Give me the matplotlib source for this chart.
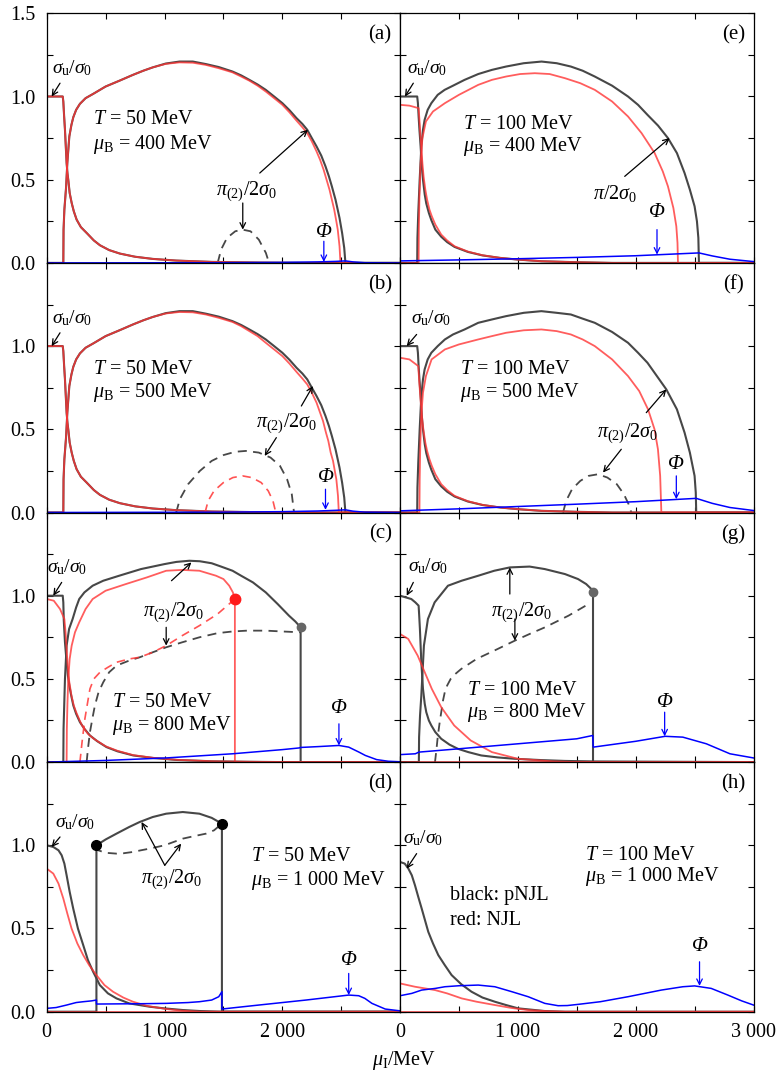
import matplotlib
matplotlib.use("Agg")
import matplotlib.pyplot as plt

plt.rcParams["font.family"] = ["Liberation Serif", "DejaVu Serif"]
plt.rcParams["mathtext.fontset"] = "custom"
plt.rcParams["mathtext.rm"] = "Liberation Serif"
plt.rcParams["mathtext.it"] = "Liberation Serif:italic"
plt.rcParams["mathtext.bf"] = "Liberation Serif:bold"

BLACK = "#474747"
RED = "#ff3535"
BLUE = "#0000ff"

# ---- (a) T=50, muB=400 ----
A_SIG_X = [0, 136, 141, 148, 155, 162, 169, 176, 183, 195, 212, 230, 254, 290, 339, 400, 452, 530, 621, 750, 900, 1100, 1400, 1800, 2200, 3000]
A_SIG_Y = [1, 1, 0.97, 0.88, 0.80, 0.70, 0.60, 0.54, 0.50, 0.42, 0.36, 0.31, 0.26, 0.215, 0.18, 0.135, 0.106, 0.077, 0.056, 0.037, 0.024, 0.014, 0.006, 0.002, 0, 0]
A_PI_X = [0, 141, 143, 150, 164, 175, 192, 210, 226, 250, 282, 330, 395, 500, 621, 732, 820, 900, 1010, 1127, 1240, 1350, 1460, 1577, 1650, 1720, 1790, 1859, 1930, 2000, 2060, 2120, 2170, 2211, 2250, 2290, 2330, 2366, 2395, 2420, 2451, 2485, 2507, 2525, 2535, 3000]
A_PI_Y = [0, 0, 0.2, 0.32, 0.45, 0.60, 0.76, 0.83, 0.876, 0.92, 0.956, 0.99, 1.016, 1.06, 1.096, 1.13, 1.155, 1.175, 1.198, 1.21, 1.21, 1.195, 1.177, 1.15, 1.127, 1.10, 1.072, 1.04, 1.0, 0.96, 0.918, 0.87, 0.835, 0.80, 0.75, 0.70, 0.645, 0.58, 0.52, 0.46, 0.38, 0.27, 0.18, 0.09, 0, 0]
A_PIR_X = [0, 141, 143, 150, 164, 175, 192, 210, 226, 250, 282, 330, 395, 500, 621, 732, 820, 900, 1010, 1127, 1240, 1350, 1460, 1577, 1650, 1720, 1790, 1859, 1930, 2000, 2060, 2120, 2170, 2211, 2250, 2290, 2320, 2350, 2375, 2400, 2420, 2440, 2458, 2470, 2485, 2493, 3000]
A_PIR_Y = [0, 0, 0.2, 0.32, 0.45, 0.60, 0.76, 0.83, 0.876, 0.92, 0.956, 0.99, 1.016, 1.06, 1.096, 1.13, 1.155, 1.175, 1.196, 1.205, 1.203, 1.19, 1.17, 1.145, 1.12, 1.095, 1.065, 1.03, 0.99, 0.95, 0.905, 0.855, 0.815, 0.78, 0.73, 0.67, 0.62, 0.56, 0.50, 0.44, 0.38, 0.32, 0.25, 0.2, 0.1, 0, 0]
A_PI2_X = [1451, 1480, 1530, 1600, 1662, 1730, 1800, 1860, 1887]
A_PI2_Y = [0, 0.08, 0.15, 0.19, 0.20, 0.19, 0.14, 0.06, 0]
A_PHI_X = [0, 1500, 2000, 2300, 2450, 2535, 2600, 2700, 3000]
A_PHI_Y = [0, 0.001, 0.003, 0.006, 0.009, 0.012, 0.006, 0.001, 0]

# ---- (b) T=50, muB=500 ----  (sigma and black pi coincide with (a))
B_SIG_X, B_SIG_Y = A_SIG_X, A_SIG_Y
B_PI_X, B_PI_Y = A_PI_X, A_PI_Y
B_PIR_X = [0, 141, 143, 150, 164, 175, 192, 210, 226, 250, 282, 330, 395, 500, 621, 732, 820, 900, 1010, 1127, 1240, 1350, 1460, 1577, 1650, 1720, 1790, 1859, 1930, 2000, 2060, 2120, 2170, 2211, 2250, 2290, 2320, 2345, 2370, 2390, 2410, 2430, 2445, 2458, 2472, 2479, 3000]
B_PIR_Y = [0, 0, 0.2, 0.32, 0.45, 0.60, 0.76, 0.83, 0.876, 0.92, 0.956, 0.99, 1.016, 1.06, 1.096, 1.13, 1.155, 1.175, 1.196, 1.205, 1.203, 1.19, 1.17, 1.145, 1.12, 1.09, 1.06, 1.02, 0.98, 0.94, 0.895, 0.845, 0.805, 0.77, 0.72, 0.66, 0.60, 0.55, 0.48, 0.43, 0.36, 0.31, 0.25, 0.2, 0.1, 0, 0]
B_PI2_X = [1099, 1130, 1200, 1300, 1400, 1500, 1600, 1690, 1800, 1900, 1980, 2040, 2080, 2099]
B_PI2_Y = [0, 0.08, 0.17, 0.25, 0.31, 0.345, 0.365, 0.37, 0.36, 0.33, 0.28, 0.2, 0.11, 0]
B_PI2R_X = [1344, 1370, 1420, 1500, 1580, 1662, 1740, 1820, 1880, 1920, 1944]
B_PI2R_Y = [0, 0.07, 0.13, 0.18, 0.21, 0.22, 0.21, 0.18, 0.13, 0.07, 0]
B_PHI_X = [0, 1500, 2000, 2300, 2450, 2535, 2600, 2700, 3000]
B_PHI_Y = [0, 0.002, 0.005, 0.009, 0.013, 0.016, 0.008, 0.002, 0]

# ---- (c) T=50, muB=800 ----
C_SIG_X = [0, 136, 141, 145, 155, 169, 180, 192, 208, 226, 250, 282, 320, 367, 430, 508, 600, 734, 900, 1100, 1400, 1700, 2000, 3000]
C_SIG_Y = [1, 1, 0.96, 0.85, 0.72, 0.60, 0.52, 0.46, 0.40, 0.34, 0.29, 0.24, 0.20, 0.16, 0.125, 0.09, 0.065, 0.04, 0.025, 0.013, 0.005, 0.002, 0, 0]
C_SIGR_X = [0, 60, 113, 150, 160, 169, 178, 190, 210, 230, 250, 280, 300, 350, 400, 500, 600, 734, 900, 1100, 1400, 1700, 2000, 3000]
C_SIGR_Y = [0.98, 0.97, 0.92, 0.86, 0.78, 0.68, 0.58, 0.49, 0.40, 0.34, 0.30, 0.25, 0.22, 0.17, 0.14, 0.095, 0.068, 0.042, 0.026, 0.014, 0.005, 0.002, 0, 0]
C_PI_X = [0, 141, 143, 149, 155, 169, 190, 220, 250, 276, 320, 390, 480, 615, 800, 1000, 1100, 1211, 1300, 1400, 1480, 1577, 1650, 1750, 1859, 1960, 2056, 2110, 2155, 2155, 3000]
C_PI_Y = [0, 0, 0.2, 0.35, 0.5, 0.70, 0.80, 0.86, 0.93, 0.98, 1.02, 1.06, 1.09, 1.12, 1.16, 1.19, 1.203, 1.21, 1.207, 1.195, 1.175, 1.15, 1.12, 1.08, 1.02, 0.95, 0.88, 0.845, 0.81, 0, 0]
C_PIR_X = [0, 169, 171, 176, 183, 195, 212, 240, 276, 330, 390, 500, 672, 850, 1014, 1150, 1296, 1437, 1500, 1549, 1580, 1597, 1597, 3000]
C_PIR_Y = [0, 0, 0.2, 0.35, 0.50, 0.62, 0.70, 0.78, 0.84, 0.92, 0.98, 1.03, 1.07, 1.11, 1.15, 1.155, 1.15, 1.12, 1.10, 1.06, 1.02, 0.98, 0, 0]
C_PI2_X = [339, 350, 367, 390, 409, 440, 480, 530, 593, 700, 790, 900, 1014, 1150, 1296, 1450, 1577, 1700, 1859, 2000, 2155]
C_PI2_Y = [0, 0.08, 0.18, 0.27, 0.34, 0.42, 0.48, 0.54, 0.58, 0.61, 0.63, 0.66, 0.69, 0.72, 0.75, 0.775, 0.785, 0.79, 0.79, 0.785, 0.78]
C_PI2R_X = [282, 300, 324, 350, 367, 400, 452, 520, 593, 700, 790, 900, 1014, 1150, 1296, 1450, 1597]
C_PI2R_Y = [0, 0.12, 0.26, 0.37, 0.44, 0.50, 0.54, 0.57, 0.60, 0.62, 0.63, 0.66, 0.70, 0.76, 0.82, 0.89, 0.98]
C_PHI_X = [0, 500, 1014, 1577, 2000, 2141, 2155, 2300, 2480, 2563, 2650, 2704, 2800, 2900, 3000]
C_PHI_Y = [0, 0.01, 0.025, 0.05, 0.075, 0.085, 0.088, 0.093, 0.10, 0.09, 0.06, 0.04, 0.015, 0.005, 0.002]
C_DOT_K = (2155, 0.81)
C_DOT_R = (1597, 0.98)

# ---- (d) T=50, muB=1000 ----
D_SIG_X = [0, 56, 100, 127, 150, 169, 195, 225, 265, 310, 350, 394, 451, 520, 592, 700, 873, 1000, 1155, 1300, 1500, 3000]
D_SIG_Y = [1.0, 0.99, 0.97, 0.94, 0.89, 0.82, 0.72, 0.62, 0.50, 0.40, 0.31, 0.24, 0.16, 0.11, 0.08, 0.05, 0.03, 0.02, 0.01, 0.004, 0, 0]
D_SIGR_X = [0, 56, 100, 141, 175, 211, 260, 310, 360, 422, 490, 563, 650, 732, 850, 1014, 1150, 1300, 3000]
D_SIGR_Y = [0.86, 0.83, 0.77, 0.68, 0.59, 0.50, 0.41, 0.34, 0.28, 0.22, 0.16, 0.12, 0.085, 0.06, 0.035, 0.016, 0.006, 0, 0]
D_PI_X = [0, 422, 422, 500, 592, 700, 789, 900, 1014, 1155, 1296, 1400, 1487, 1487, 3000]
D_PI_Y = [0, 0, 1.0, 1.035, 1.07, 1.11, 1.14, 1.17, 1.19, 1.20, 1.19, 1.165, 1.13, 0, 0]
D_PI2_X = [422, 437, 500, 592, 650, 732, 800, 873, 1000, 1155, 1250, 1352, 1420, 1487]
D_PI2_Y = [1.0, 0.97, 0.955, 0.95, 0.952, 0.96, 0.97, 0.98, 1.0, 1.04, 1.055, 1.07, 1.09, 1.13]
D_PHI_X = [0, 80, 169, 250, 310, 380, 422, 422, 600, 800, 1014, 1200, 1296, 1400, 1460, 1487, 1487, 1800, 2200, 2563, 2648, 2700, 2760, 2873, 3000]
D_PHI_Y = [0.02, 0.025, 0.04, 0.055, 0.06, 0.065, 0.07, 0.046, 0.047, 0.048, 0.05, 0.055, 0.06, 0.07, 0.09, 0.12, 0.016, 0.04, 0.07, 0.10, 0.096, 0.08, 0.05, 0.016, 0.005]
D_DOTS_X = [422, 1487]
D_DOTS_Y = [1.0, 1.13]

# ---- (e) T=100, muB=400 ----
E_SIG_X = [0, 146, 152, 158, 165, 175, 185, 195, 210, 223, 245, 266, 300, 350, 400, 463, 576, 700, 850, 1000, 1200, 1500, 1800, 3000]
E_SIG_Y = [1, 1, 0.96, 0.88, 0.80, 0.70, 0.58, 0.50, 0.41, 0.357, 0.30, 0.257, 0.20, 0.157, 0.125, 0.096, 0.066, 0.045, 0.03, 0.02, 0.01, 0.004, 0, 0]
E_SIGR_X = [0, 80, 158, 165, 172, 180, 190, 200, 215, 230, 250, 270, 300, 350, 400, 463, 576, 700, 850, 1000, 1200, 1500, 1800, 3000]
E_SIGR_Y = [0.95, 0.945, 0.93, 0.86, 0.78, 0.70, 0.60, 0.52, 0.44, 0.38, 0.32, 0.28, 0.23, 0.17, 0.135, 0.10, 0.068, 0.046, 0.03, 0.02, 0.01, 0.004, 0, 0]
E_PI_X = [0, 146, 148, 155, 167, 181, 195, 209, 235, 266, 320, 379, 450, 548, 664, 780, 900, 1050, 1201, 1330, 1450, 1550, 1653, 1800, 1935, 2020, 2100, 2190, 2274, 2350, 2415, 2460, 2500, 2520, 2532, 2537, 3000]
E_PI_Y = [0, 0, 0.15, 0.3, 0.5, 0.70, 0.80, 0.86, 0.92, 0.96, 1.01, 1.04, 1.065, 1.10, 1.135, 1.16, 1.18, 1.20, 1.21, 1.20, 1.18, 1.155, 1.12, 1.065, 1.0, 0.95, 0.89, 0.825, 0.75, 0.66, 0.54, 0.44, 0.34, 0.25, 0.15, 0, 0]
E_PIR_X = [0, 158, 160, 165, 175, 190, 220, 280, 381, 500, 664, 780, 900, 1020, 1144, 1270, 1400, 1530, 1653, 1800, 1935, 2050, 2161, 2230, 2274, 2320, 2345, 2355, 2359, 3000]
E_PIR_Y = [0, 0, 0.2, 0.4, 0.6, 0.75, 0.85, 0.91, 0.96, 1.01, 1.07, 1.10, 1.12, 1.135, 1.14, 1.135, 1.11, 1.08, 1.04, 0.97, 0.88, 0.78, 0.66, 0.55, 0.46, 0.33, 0.22, 0.12, 0, 0]
E_PHI_X = [0, 500, 1000, 1500, 2000, 2537, 2650, 2800, 3000]
E_PHI_Y = [0.012, 0.018, 0.025, 0.033, 0.043, 0.06, 0.042, 0.022, 0.008]

# ---- (f) T=100, muB=500 ----
F_SIG_X, F_SIG_Y = E_SIG_X, E_SIG_Y
F_SIGR_X = [0, 80, 155, 162, 170, 180, 190, 200, 215, 230, 250, 270, 300, 350, 400, 463, 576, 700, 850, 1000, 1200, 1500, 1800, 3000]
F_SIGR_Y = [0.93, 0.92, 0.88, 0.80, 0.72, 0.63, 0.55, 0.49, 0.42, 0.37, 0.32, 0.28, 0.23, 0.17, 0.135, 0.10, 0.068, 0.046, 0.03, 0.02, 0.01, 0.004, 0, 0]
F_PI_X = [0, 146, 148, 155, 167, 181, 195, 209, 235, 266, 320, 381, 450, 548, 664, 780, 900, 1050, 1200, 1330, 1450, 1550, 1653, 1800, 1935, 2020, 2100, 2180, 2260, 2350, 2415, 2460, 2500, 2510, 2514, 3000]
F_PI_Y = [0, 0, 0.15, 0.3, 0.5, 0.70, 0.80, 0.86, 0.92, 0.96, 1.0, 1.04, 1.07, 1.10, 1.14, 1.16, 1.18, 1.20, 1.21, 1.20, 1.19, 1.165, 1.14, 1.085, 1.02, 0.96, 0.90, 0.82, 0.74, 0.62, 0.48, 0.36, 0.22, 0.12, 0, 0]
F_PIR_X = [0, 165, 167, 172, 180, 195, 220, 268, 381, 500, 664, 780, 900, 1050, 1200, 1330, 1450, 1550, 1653, 1800, 1935, 2030, 2105, 2160, 2189, 2208, 2218, 3000]
F_PIR_Y = [0, 0, 0.2, 0.4, 0.58, 0.72, 0.82, 0.92, 0.98, 1.01, 1.04, 1.06, 1.08, 1.095, 1.10, 1.09, 1.07, 1.04, 1.0, 0.92, 0.82, 0.73, 0.62, 0.50, 0.38, 0.22, 0, 0]
F_PI2_X = [1384, 1410, 1460, 1530, 1600, 1681, 1760, 1840, 1900, 1940, 1963]
F_PI2_Y = [0, 0.07, 0.14, 0.19, 0.22, 0.23, 0.21, 0.17, 0.11, 0.05, 0]
F_PHI_X = [0, 500, 1000, 1500, 2000, 2514, 2650, 2800, 3000]
F_PHI_Y = [0.01, 0.022, 0.036, 0.05, 0.065, 0.085, 0.055, 0.03, 0.012]

# ---- (g) T=100, muB=800 ----
G_SIG_X = [0, 96, 130, 158, 163, 169, 181, 195, 210, 223, 245, 266, 300, 350, 420, 491, 580, 689, 830, 972, 1200, 1400, 1650, 3000]
G_SIG_Y = [1.0, 0.98, 0.96, 0.94, 0.88, 0.80, 0.60, 0.44, 0.35, 0.30, 0.25, 0.22, 0.18, 0.14, 0.105, 0.08, 0.06, 0.04, 0.028, 0.02, 0.012, 0.007, 0.004, 0.0]
G_SIGR_X = [0, 70, 150, 210, 270, 350, 460, 600, 780, 1000, 1300, 1500, 3000]
G_SIGR_Y = [0.77, 0.74, 0.64, 0.54, 0.44, 0.33, 0.22, 0.13, 0.06, 0.02, 0.004, 0, 0]
G_PI_X = [0, 160, 162, 170, 181, 203, 237, 294, 407, 523, 664, 800, 932, 1100, 1229, 1400, 1511, 1580, 1624, 1638, 1638, 3000]
G_PI_Y = [0, 0, 0.15, 0.28, 0.40, 0.70, 0.86, 0.96, 1.06, 1.09, 1.12, 1.15, 1.17, 1.175, 1.16, 1.13, 1.10, 1.07, 1.04, 1.02, 0, 0]
G_PI2_X = [297, 310, 320, 335, 350, 365, 380, 400, 430, 470, 520, 650, 800, 975, 1100, 1230, 1430, 1600]
G_PI2_Y = [0, 0.08, 0.15, 0.23, 0.30, 0.37, 0.42, 0.46, 0.50, 0.53, 0.56, 0.62, 0.67, 0.73, 0.77, 0.81, 0.88, 0.95]
G_PHI_X = [0, 130, 160, 500, 1000, 1500, 1636, 1640, 2000, 2250, 2400, 2600, 2800, 3000]
G_PHI_Y = [0.045, 0.05, 0.06, 0.08, 0.11, 0.14, 0.16, 0.09, 0.125, 0.155, 0.15, 0.11, 0.05, 0.025]
G_DOT_K = (1638, 1.02)

# ---- (h) T=100, muB=1000 ----
H_SIG_X = [0, 40, 71, 100, 127, 155, 184, 212, 240, 280, 325, 380, 438, 520, 607, 700, 805, 900, 1003, 1229, 1400, 3000]
H_SIG_Y = [0.90, 0.89, 0.86, 0.82, 0.76, 0.69, 0.62, 0.55, 0.48, 0.41, 0.34, 0.28, 0.22, 0.165, 0.12, 0.085, 0.06, 0.04, 0.02, 0.004, 0, 0]
H_SIGR_X = [0, 127, 297, 400, 523, 650, 805, 950, 1088, 1250, 1400, 3000]
H_SIGR_Y = [0.17, 0.15, 0.13, 0.11, 0.08, 0.06, 0.04, 0.022, 0.01, 0.003, 0, 0]
H_PHI_X = [0, 100, 184, 300, 381, 500, 664, 805, 950, 1088, 1229, 1342, 1420, 1511, 1700, 1935, 2218, 2400, 2500, 2641, 2782, 2900, 3000]
H_PHI_Y = [0.096, 0.11, 0.13, 0.14, 0.15, 0.156, 0.16, 0.15, 0.12, 0.09, 0.05, 0.036, 0.037, 0.044, 0.06, 0.09, 0.13, 0.15, 0.155, 0.14, 0.10, 0.065, 0.04]

ZERO_X = [0, 3000]
ZERO_Y = [0, 0]

X_TICKS = [0, 500, 1000, 1500, 2000, 2500, 3000]
Y_TICKS = [0, 0.25, 0.5, 0.75, 1.0, 1.25, 1.5]

# ---------------------------------------------------------------------------
W_PX, H_PX = 781, 1077
fig = plt.figure(figsize=(W_PX / 100, H_PX / 100), dpi=100)
left_x, right_x, ax_w = 46.7 / W_PX, 400 / W_PX, 353.5 / W_PX
top_px, row_px = 13.3, 249.6

axes = {}
for col, letters in enumerate(["abcd", "efgh"]):
    for row, let in enumerate(letters):
        y0 = 1 - (top_px + (row + 1) * row_px) / H_PX
        ax = fig.add_axes([left_x if col == 0 else right_x, y0, ax_w, row_px / H_PX])
        ax.set_xlim(0, 3000)
        ax.set_ylim(0, 1.5)
        ax.tick_params(direction="in", top=True, right=True, length=4, width=0.8,
                       labelsize=14.5, pad=8)
        if col == 0:
            ylab = ["0.0", "", "0.5", "", "1.0", "", "1.5" if row == 0 else ""]
        else:
            ylab = [""] * 7
        ax.set_yticks(Y_TICKS, ylab)
        if row == 3:
            xlab = ["0", "", "1 000", "", "2 000", "", "3 000" if col == 1 else ""]
        else:
            xlab = [""] * 7
        ax.set_xticks(X_TICKS, xlab)
        for s in ax.spines.values():
            s.set_linewidth(0.9)
        ax.text(2830, 1.37, f"({let})", fontsize=15, ha="center", va="center")
        axes[let] = ax


def black(ax, x, y, dashed=False):
    if dashed:
        ax.plot(x, y, color=BLACK, lw=1.3, dashes=(5, 3.5))
    else:
        ax.plot(x, y, color=BLACK, lw=1.5)


def red(ax, x, y, dashed=False):
    if dashed:
        ax.plot(x, y, color=RED, lw=1.2, alpha=0.85, dashes=(5, 3.5))
    else:
        ax.plot(x, y, color=RED, lw=1.3, alpha=0.8)


def arrow(ax, tail, tip, color="black"):
    ax.annotate("", xy=tip, xytext=tail,
                arrowprops=dict(arrowstyle="->", color=color, lw=0.9,
                                shrinkA=0, shrinkB=0, mutation_scale=10))


SIG = r"$\sigma_{\mathrm{u}}/\sigma_0$"
PI2 = r"$\pi_{(2)}/2\sigma_0$"


def sig_label(ax, txt, tail, tip):
    ax.text(txt[0], txt[1], SIG, fontsize=14, ha="center", va="center")
    arrow(ax, tail, tip)


def cond_text(ax, x, y1, y2, T, mu):
    ax.text(x, y1, r"$T$ = %s MeV" % T, fontsize=14.5, ha="left", va="center")
    ax.text(x, y2, r"$\mu_{\mathrm{B}}$ = %s MeV" % mu, fontsize=14.5, ha="left", va="center")


def phi_label(ax, x, ytxt, ytail, ytip):
    ax.text(x, ytxt, "Φ", fontsize=15, fontstyle="italic", ha="center", va="center")
    arrow(ax, (x, ytail), (x, ytip), color=BLUE)


# (a)
ax = axes["a"]
black(ax, A_SIG_X, A_SIG_Y)
black(ax, A_PI_X, A_PI_Y)
black(ax, A_PI2_X, A_PI2_Y, dashed=True)
red(ax, A_SIG_X, A_SIG_Y)
red(ax, A_PIR_X, A_PIR_Y)
ax.plot(A_PHI_X, A_PHI_Y, color=BLUE, lw=1.1)
sig_label(ax, (214, 1.17), (113, 1.08), (42, 1.0))
cond_text(ax, 393, 0.86, 0.71, "50", "400")
ax.text(1695, 0.43, PI2, fontsize=14.5, ha="center", va="center")
arrow(ax, (1808, 0.54), (2217, 0.80))
arrow(ax, (1664, 0.36), (1664, 0.20))
phi_label(ax, 2352, 0.18, 0.13, 0.006)

# (b)
ax = axes["b"]
black(ax, B_SIG_X, B_SIG_Y)
black(ax, B_PI_X, B_PI_Y)
black(ax, B_PI2_X, B_PI2_Y, dashed=True)
red(ax, B_SIG_X, B_SIG_Y)
red(ax, B_PIR_X, B_PIR_Y)
red(ax, B_PI2R_X, B_PI2R_Y, dashed=True)
ax.plot(B_PHI_X, B_PHI_Y, color=BLUE, lw=1.1)
sig_label(ax, (214, 1.17), (113, 1.08), (42, 1.0))
cond_text(ax, 393, 0.86, 0.72, "50", "500")
ax.text(2034, 0.54, PI2, fontsize=14.5, ha="center", va="center")
arrow(ax, (2161, 0.64), (2259, 0.76))
arrow(ax, (1949, 0.45), (1850, 0.34))
phi_label(ax, 2366, 0.21, 0.14, 0.016)

# (c)
ax = axes["c"]
black(ax, C_SIG_X, C_SIG_Y)
black(ax, C_PI_X, C_PI_Y)
black(ax, C_PI2_X, C_PI2_Y, dashed=True)
red(ax, C_SIGR_X, C_SIGR_Y)
red(ax, C_PIR_X, C_PIR_Y)
red(ax, C_PI2R_X, C_PI2R_Y, dashed=True)
ax.plot(C_PHI_X, C_PHI_Y, color=BLUE, lw=1.1)
ax.plot(*C_DOT_K, "o", color="#666666", ms=6)
ax.plot(*C_DOT_R, "o", color="#ff1a1a", ms=7.5)
sig_label(ax, (169, 1.17), (127, 1.08), (56, 1.0))
cond_text(ax, 551, 0.36, 0.22, "50", "800")
ax.text(1073, 0.90, PI2, fontsize=14.5, ha="center", va="center")
arrow(ax, (1059, 1.09), (1228, 1.20))
arrow(ax, (1014, 0.81), (1014, 0.70))
phi_label(ax, 2480, 0.32, 0.23, 0.10)

# (d)
ax = axes["d"]
black(ax, D_SIG_X, D_SIG_Y)
black(ax, D_PI_X, D_PI_Y)
black(ax, D_PI2_X, D_PI2_Y, dashed=True)
red(ax, D_SIGR_X, D_SIGR_Y)
red(ax, ZERO_X, ZERO_Y)
ax.plot(D_PHI_X, D_PHI_Y, color=BLUE, lw=1.1)
ax.plot(D_DOTS_X, D_DOTS_Y, "o", color="black", ms=7)
sig_label(ax, (240, 1.14), (113, 1.05), (42, 0.99))
cond_text(ax, 1732, 0.93, 0.79, "50", "1 000")
ax.text(1059, 0.80, PI2, fontsize=14.5, ha="center", va="center")
arrow(ax, (1002, 0.88), (805, 1.14))
arrow(ax, (1002, 0.88), (1141, 1.01))
phi_label(ax, 2563, 0.31, 0.23, 0.10)

# (e)
ax = axes["e"]
black(ax, E_SIG_X, E_SIG_Y)
black(ax, E_PI_X, E_PI_Y)
red(ax, E_SIGR_X, E_SIGR_Y)
red(ax, E_PIR_X, E_PIR_Y)
ax.plot(E_PHI_X, E_PHI_Y, color=BLUE, lw=1.1)
sig_label(ax, (229, 1.17), (113, 1.08), (42, 1.0))
cond_text(ax, 537, 0.83, 0.70, "100", "400")
ax.text(1822, 0.42, r"$\pi/2\sigma_0$", fontsize=14.5, ha="center", va="center")
arrow(ax, (1907, 0.52), (2288, 0.75))
phi_label(ax, 2181, 0.30, 0.20, 0.05)

# (f)
ax = axes["f"]
black(ax, F_SIG_X, F_SIG_Y)
black(ax, F_PI_X, F_PI_Y)
black(ax, F_PI2_X, F_PI2_Y, dashed=True)
red(ax, F_SIGR_X, F_SIGR_Y)
red(ax, F_PIR_X, F_PIR_Y)
ax.plot(F_PHI_X, F_PHI_Y, color=BLUE, lw=1.1)
sig_label(ax, (268, 1.17), (141, 1.07), (57, 1.0))
cond_text(ax, 508, 0.86, 0.72, "100", "500")
ax.text(1935, 0.48, PI2, fontsize=14.5, ha="center", va="center")
arrow(ax, (2090, 0.60), (2260, 0.74))
arrow(ax, (1878, 0.38), (1723, 0.24))
phi_label(ax, 2345, 0.29, 0.22, 0.08)

# (g)
ax = axes["g"]
black(ax, G_SIG_X, G_SIG_Y)
black(ax, G_PI_X, G_PI_Y)
black(ax, G_PI2_X, G_PI2_Y, dashed=True)
red(ax, G_SIGR_X, G_SIGR_Y)
red(ax, ZERO_X, ZERO_Y)
ax.plot(G_PHI_X, G_PHI_Y, color=BLUE, lw=1.1)
ax.plot(*G_DOT_K, "o", color="#666666", ms=6)
sig_label(ax, (240, 1.18), (113, 1.08), (57, 1.0))
cond_text(ax, 565, 0.43, 0.30, "100", "800")
ax.text(1031, 0.90, PI2, fontsize=14.5, ha="center", va="center")
arrow(ax, (932, 1.01), (932, 1.17))
arrow(ax, (975, 0.86), (975, 0.73))
phi_label(ax, 2246, 0.36, 0.30, 0.155)

# (h)
ax = axes["h"]
black(ax, H_SIG_X, H_SIG_Y)
red(ax, H_SIGR_X, H_SIGR_Y)
red(ax, ZERO_X, ZERO_Y)
ax.plot(H_PHI_X, H_PHI_Y, color=BLUE, lw=1.1)
sig_label(ax, (198, 1.04), (141, 0.95), (57, 0.86))
cond_text(ax, 1568, 0.94, 0.81, "100", "1 000")
ax.text(424, 0.70, "black: pNJL", fontsize=14.5, ha="left", va="center")
ax.text(424, 0.55, "red: NJL", fontsize=14.5, ha="left", va="center")
phi_label(ax, 2542, 0.39, 0.30, 0.155)

fig.text(404 / W_PX, 1 - 1060 / H_PX, r"$\mu_{\mathrm{I}}$/MeV", fontsize=14.5,
         ha="center", va="center")

fig.savefig("out.png", dpi=100)
